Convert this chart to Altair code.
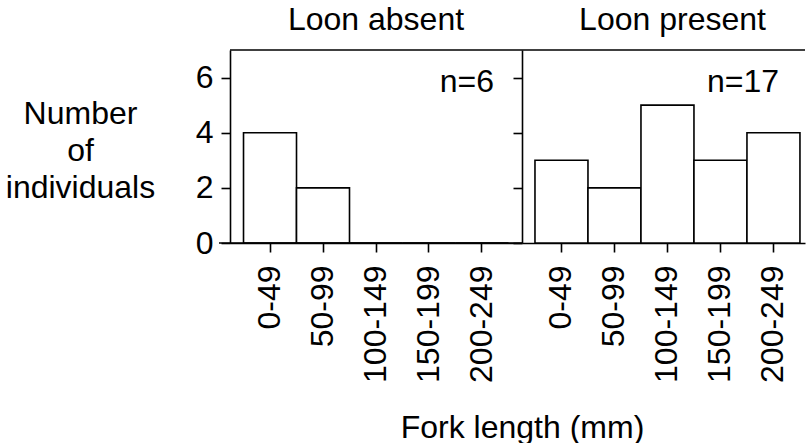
import altair as alt
import pandas as pd

classes = ["0-49", "50-99", "100-149", "150-199", "200-249"]
absent_counts = [4, 2, 0, 0, 0]
present_counts = [3, 2, 5, 3, 4]
panel_titles = ["Loon absent", "Loon present"]
n_labels = ["n=6", "n=17"]
y_ticks = [0, 2, 4, 6]
y_max = 7
y_title = ["Number", "of", "individuals"]
x_title = "Fork length (mm)"

FONT = "Liberation Sans"
LW = 1.6


def panel(counts, title, nlab, width, left, align, po, nx):
    df = pd.DataFrame({"cls": classes, "count": counts})
    one = pd.DataFrame({"k": [0]})
    xscale = alt.Scale(domain=classes, paddingInner=0, paddingOuter=po, align=align)
    yscale = alt.Scale(domain=[0, y_max], nice=False, zero=True)
    if left:
        xaxis = alt.Axis(labelAngle=270, tickSize=9, labelPadding=13, title=x_title,
                         titleX=292, titleY=194, titleAlign="center",
                         titleBaseline="alphabetic", titleFontSize=32)
        yaxis = alt.Axis(values=y_ticks, tickSize=9, labelPadding=8, grid=False,
                         title=y_title, titleAngle=0, titleAlign="center",
                         titleBaseline="alphabetic", titleX=-150, titleY=73,
                         titleLineHeight=37, titleFontSize=32)
    else:
        xaxis = alt.Axis(labelAngle=270, tickSize=9, labelPadding=13, title=None)
        yaxis = alt.Axis(values=y_ticks, tickSize=9, labels=False, grid=False, title=None)
    bars = alt.Chart(df).mark_bar(fill="white", stroke="black", strokeWidth=LW).encode(
        x=alt.X("cls:N", scale=xscale, sort=classes, axis=xaxis),
        y=alt.Y("count:Q", scale=yscale, axis=yaxis),
    )
    top = alt.Chart(one).mark_rule(color="black", strokeWidth=LW).encode(
        y=alt.datum(y_max), x=alt.value(0), x2=alt.value(width)
    )
    layers = [bars, top]
    if left:
        base = alt.Chart(one).mark_rule(color="black", strokeWidth=LW).encode(
            y=alt.datum(0), x=alt.value(-11), x2=alt.value(width)
        )
        layers.append(base)
    txt = alt.Chart(one).mark_text(align="right", baseline="alphabetic", fontSize=32,
                                   font=FONT, fontWeight="normal", color="black").encode(
        x=alt.value(nx), y=alt.value(42), text=alt.value(nlab)
    )
    layers.append(txt)
    t = alt.TitleParams(title, dx=0 if left else 9)
    return alt.layer(*layers).properties(width=width, height=193, title=t)


left = panel(absent_counts, panel_titles[0], n_labels[0], 292, True, 0.5, 0.255, 264)
right = panel(present_counts, panel_titles[1], n_labels[1], 283, False, 0.72, 0.17, 257)

chart = alt.hconcat(left, right, spacing=0, bounds="flush").properties(
    padding={"left": 5, "top": 4, "right": 0, "bottom": 0}
).configure_view(stroke=None).configure_axis(
    domainColor="black", domainWidth=LW, tickColor="black", tickWidth=LW,
    labelFont=FONT, labelFontSize=32, labelColor="black",
    titleFont=FONT, titleColor="black", titleFontWeight="normal",
).configure_title(
    font=FONT, fontSize=32, fontWeight="normal", color="black",
    baseline="alphabetic", offset=12
)

chart.save("out.html", embed_options={"renderer": "svg", "actions": False})
